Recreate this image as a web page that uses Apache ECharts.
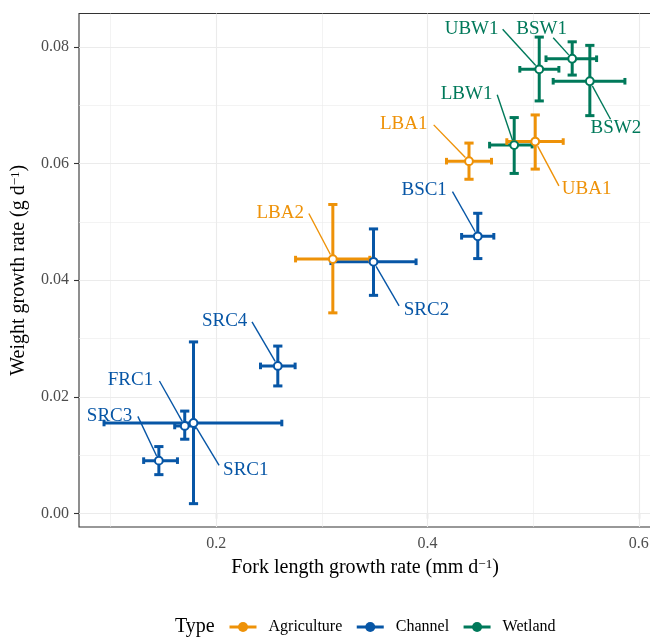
<!DOCTYPE html>
<html><head><meta charset="utf-8">
<script src="https://cdn.jsdelivr.net/npm/echarts@6/dist/echarts.min.js"></script>
<style>html,body{margin:0;padding:0;background:#fff;overflow:hidden}#c{width:650px;height:639px}</style>
</head><body><div id="c"></div>
<script>
// ---- data ----
const sites      = ['UBW1','BSW1','BSW2','LBW1','BSC1','SRC2','SRC4','FRC1','SRC1','SRC3','UBA1','LBA1','LBA2'];
const siteType   = ['Wetland','Wetland','Wetland','Wetland','Channel','Channel','Channel','Channel','Channel','Channel','Agriculture','Agriculture','Agriculture'];
const forkMean   = [0.5057,0.5369,0.5536,0.4820,0.4475,0.3488,0.2582,0.1701,0.1784,0.1456,0.5019,0.4392,0.3103];
const forkLow    = [0.4873,0.5121,0.5189,0.4587,0.4322,0.3085,0.2418,0.1606,0.0937,0.1312,0.4750,0.4179,0.2750];
const forkHigh   = [0.5243,0.5600,0.5868,0.4990,0.4627,0.3891,0.2746,0.1796,0.2620,0.1632,0.5284,0.4605,0.3453];
const weightMean = [0.07614,0.07795,0.07409,0.06315,0.04753,0.04316,0.02532,0.01503,0.01554,0.00909,0.06376,0.06040,0.04362];
const weightLow  = [0.07072,0.07515,0.06820,0.05830,0.04371,0.03741,0.02189,0.01276,0.00172,0.00669,0.05904,0.05730,0.03441];
const weightHigh = [0.08166,0.08085,0.08024,0.06787,0.05147,0.04879,0.02872,0.01758,0.02943,0.01150,0.06832,0.06350,0.05298];
const typeNames  = ['Agriculture','Channel','Wetland'];
const xTickValues = [0.2,0.4,0.6];
const xMinorValues = [0.1,0.3,0.5];
const yTickValues = [0,0.02,0.04,0.06,0.08];
const yMinorValues = [0.01,0.03,0.05,0.07];

// ---- styles / layout ----
const typeColors = {Agriculture:'#EE9208', Channel:'#0756A6', Wetland:'#00795A'};
const FONT = 'Liberation Serif';
// label offsets (px) from point, and leader-line start relative to label centre
const labelLayout = {
  UBW1:{dx:-67.6,dy:-40,sx:31,sy:0},
  BSW1:{dx:-30.6,dy:-29.4,sx:11.6,sy:8.4},
  BSW2:{dx:26,dy:47,sx:-5.3,sy:-9},
  LBW1:{dx:-47.6,dy:-51,sx:30.6,sy:0.7},
  UBA1:{dx:51.4,dy:47.6,sx:-27.7,sy:-3.3},
  LBA1:{dx:-65.3,dy:-37.6,sx:30,sy:1.3},
  BSC1:{dx:-53.6,dy:-46,sx:28.3,sy:1.4},
  LBA2:{dx:-52.7,dy:-45.6,sx:28.7,sy:0},
  SRC2:{dx:53,dy:48,sx:-27.4,sy:-4},
  SRC4:{dx:-53.2,dy:-44.7,sx:27.4,sy:0.7},
  FRC1:{dx:-54.3,dy:-45.7,sx:29,sy:0.7},
  SRC1:{dx:52.3,dy:47.3,sx:-26.7,sy:-5},
  SRC3:{dx:-49.3,dy:-44.3,sx:28.3,sy:0}
};

const rows = sites.map((s,i)=>[forkMean[i],weightMean[i],forkLow[i],forkHigh[i],weightLow[i],weightHigh[i],i]);

function colorOf(i){ return typeColors[siteType[i]]; }

function renderBars(params, api){
  const x=api.value(0), y=api.value(1), xl=api.value(2), xh=api.value(3), yl=api.value(4), yh=api.value(5);
  const c = colorOf(api.value(6));
  const pXL=api.coord([xl,y]), pXH=api.coord([xh,y]), pYL=api.coord([x,yl]), pYH=api.coord([x,yh]);
  const st={stroke:c,lineWidth:3,lineCap:'butt'};
  const cw=4.6, ch=3.3;
  const L=(a,b,c2,d)=>({type:'line',shape:{x1:a,y1:b,x2:c2,y2:d},style:st});
  return {type:'group',children:[
    L(pYL[0],pYL[1],pYH[0],pYH[1]),
    L(pYL[0]-cw,pYL[1],pYL[0]+cw,pYL[1]),
    L(pYH[0]-cw,pYH[1],pYH[0]+cw,pYH[1]),
    L(pXL[0],pXL[1],pXH[0],pXH[1]),
    L(pXL[0],pXL[1]-ch,pXL[0],pXL[1]+ch),
    L(pXH[0],pXH[1]-ch,pXH[0],pXH[1]+ch)
  ]};
}
function renderPoints(params, api){
  const p=api.coord([api.value(0),api.value(1)]);
  const c=colorOf(api.value(6));
  return {type:'circle',shape:{cx:p[0],cy:p[1],r:3.9},style:{fill:'#fff',stroke:c,lineWidth:2}};
}
function renderLabels(params, api){
  const i=api.value(6);
  const p=api.coord([api.value(0),api.value(1)]);
  const c=colorOf(i);
  const lay=labelLayout[sites[i]];
  const cx=p[0]+lay.dx, cy=p[1]+lay.dy;
  const sx=cx+lay.sx, sy=cy+lay.sy;
  const vx=sx-p[0], vy=sy-p[1], len=Math.hypot(vx,vy);
  const ex=p[0]+vx/len*5.2, ey=p[1]+vy/len*5.2;
  return {type:'group',children:[
    {type:'line',shape:{x1:sx,y1:sy,x2:ex,y2:ey},style:{stroke:c,lineWidth:1.4}},
    {type:'text',x:cx,y:cy,style:{text:sites[i],fill:c,fontFamily:FONT,fontSize:19,align:'center',verticalAlign:'middle'}}
  ]};
}

const gridLines = [];
xTickValues.forEach(v=>gridLines.push({xAxis:v,lineStyle:{width:1.1}}));
xMinorValues.forEach(v=>gridLines.push({xAxis:v,lineStyle:{width:0.6}}));
yTickValues.forEach(v=>gridLines.push({yAxis:v,lineStyle:{width:1.1}}));
yMinorValues.forEach(v=>gridLines.push({yAxis:v,lineStyle:{width:0.6}}));

const supRich = {sup:{fontFamily:FONT,fontSize:13,color:'#000',verticalAlign:'top'}};

const chart = echarts.init(document.getElementById('c'));
chart.setOption({
  animation:false,
  backgroundColor:'#fff',
  title:{text:'Type',left:175,top:617,padding:0,textStyle:{fontFamily:FONT,fontSize:20,fontWeight:'normal',color:'#000'}},
  legend:{data:typeNames,left:228,top:619,padding:0,itemWidth:27,itemHeight:12.5,itemGap:13,selectedMode:false,
    lineStyle:{width:3},itemStyle:{borderWidth:0},
    textStyle:{fontFamily:FONT,fontSize:16,color:'#000',padding:[0,0,0,7]}},
  grid:{left:79,top:13.5,width:572,bottom:112,outerBoundsMode:'none',containLabel:false,
    show:true,borderColor:'#333',borderWidth:1.1,backgroundColor:'#fff'},
  xAxis:{type:'value',min:0.0700,max:0.6115,
    name:'Fork length growth rate (mm d{sup|−1})',nameLocation:'middle',nameGap:31,
    nameTextStyle:{fontFamily:FONT,fontSize:20,color:'#000',rich:supRich},
    axisLine:{show:false},splitLine:{show:false},
    axisTick:{customValues:xTickValues,length:5,lineStyle:{color:'#333',width:1.1}},
    axisLabel:{customValues:xTickValues,margin:9,fontFamily:FONT,fontSize:16,color:'#4D4D4D',formatter:v=>v.toFixed(1)}},
  yAxis:{type:'value',min:-0.00228,max:0.0857,
    name:'Weight growth rate (g d{sup|−1})',nameLocation:'middle',nameGap:50,
    nameTextStyle:{fontFamily:FONT,fontSize:20,color:'#000',rich:supRich},
    axisLine:{show:false},splitLine:{show:false},
    axisTick:{customValues:yTickValues,length:5,lineStyle:{color:'#333',width:1.1}},
    axisLabel:{customValues:yTickValues,margin:10,fontFamily:FONT,fontSize:16,color:'#4D4D4D',formatter:v=>v.toFixed(2)}},
  series:[
    ...typeNames.map(t=>({type:'line',name:t,data:[],symbol:'circle',symbolSize:10,
      itemStyle:{color:typeColors[t]},lineStyle:{color:typeColors[t],width:3}})),
    {type:'custom',name:'bars',data:rows,renderItem:renderBars,z:3,clip:false,
      encode:{x:[0,2,3],y:[1,4,5]},
      markLine:{silent:true,symbol:['none','none'],z:1,label:{show:false},animation:false,
        lineStyle:{color:'#EBEBEB',type:'solid'},data:gridLines}},
    {type:'custom',name:'points',data:rows,renderItem:renderPoints,z:4,clip:false,encode:{x:0,y:1}},
    {type:'custom',name:'labels',data:rows,renderItem:renderLabels,z:5,clip:false,encode:{x:0,y:1}}
  ]
});
</script></body></html>
